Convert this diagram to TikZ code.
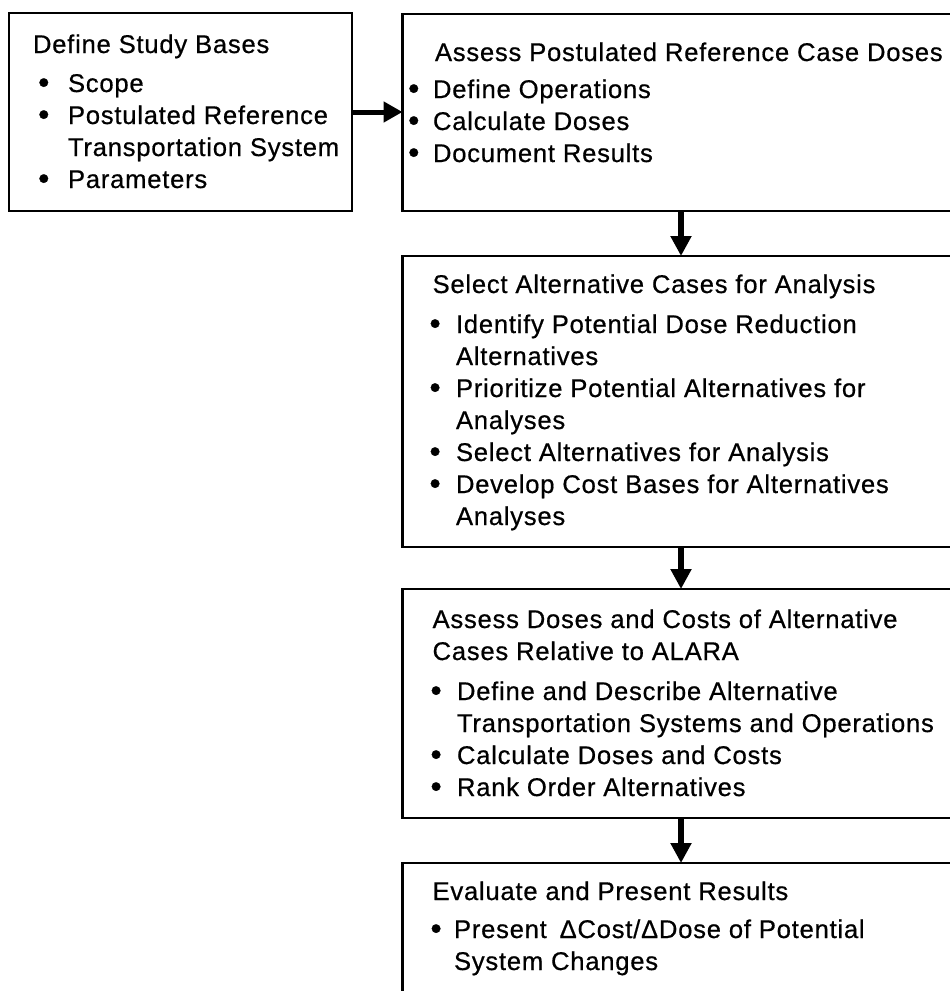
\documentclass[tikz,border=0pt]{standalone}
\usepackage{fontspec}
\usepackage{graphicx}
\setmainfont{Liberation Sans}[LetterSpace=3.0, FakeBold=0.6]
\usetikzlibrary{arrows.meta}

% a slightly enlarged bullet
\newcommand\bigbul{\raisebox{-1.2pt}{\scalebox{1.25}{\textbullet}}}
% bullet placed #1 from the left of the text block, item text starting #1+#2 from it
\newcommand\bx[2]{\hspace*{#1}\makebox[#2][l]{\bigbul}}
% continuation line of an item
\newcommand\cont[1]{\hspace*{#1}}

\begin{document}
\begin{tikzpicture}[x=1pt,y=-1pt,
  box/.style={draw=black, line width=2.6pt, inner sep=0pt, outer sep=0pt, anchor=north west},
  txt/.style={inner sep=0pt, outer sep=0pt, anchor=north west, align=left,
              font=\fontsize{25.6}{32}\selectfont},
  hflow/.style={draw=black, line width=5pt, -{Triangle[length=19pt,width=20pt]}},
  vflow/.style={draw=black, line width=6pt, -{Triangle[length=20pt,width=20pt]}}]
\useasboundingbox (0,0) rectangle (950,991);
\fill[white] (0,0) rectangle (950,991);
\clip (0,0) rectangle (950,991);

% process boxes (the right-hand column runs past the page edge)
\node[box, minimum width=343pt, minimum height=198pt] (define)  at (9,13)    {};
\node[box, minimum width=560pt, minimum height=197pt] (assess)  at (402.5,14)  {};
\node[box, minimum width=560pt, minimum height=291pt] (select)  at (402.5,256) {};
\node[box, minimum width=560pt, minimum height=229pt] (doses)   at (402.5,589) {};
\node[box, minimum width=560pt, minimum height=150pt] (results) at (402.5,863) {};

% box texts
\node[txt] (t-define) at (33,30.6) {\strut Define Study Bases\\[7pt]
  \bx{5.2pt}{29.8pt}Scope\\
  \bx{5.2pt}{29.8pt}Postulated Reference\\
  \cont{35pt}Transportation System\\
  \bx{5.2pt}{29.8pt}Parameters};

\node[txt] (t-assess) at (408.2,38.6) {\strut\hspace*{26.8pt}Assess Postulated Reference Case Doses\\[5pt]
  \bx{0pt}{24.8pt}Define Operations\\
  \bx{0pt}{24.8pt}Calculate Doses\\
  \bx{0pt}{24.8pt}Document Results};

\node[txt] (t-select) at (429.5,270.6) {\strut\hspace*{3.1pt}Select Alternative Cases for Analysis\\[8pt]
  \bx{0pt}{26.5pt}Identify Potential Dose Reduction\\
  \cont{26.5pt}Alternatives\\
  \bx{0pt}{26.5pt}Prioritize Potential Alternatives for\\
  \cont{26.5pt}Analyses\\
  \bx{0pt}{26.5pt}Select Alternatives for Analysis\\
  \bx{0pt}{26.5pt}Develop Cost Bases for Alternatives\\
  \cont{26.5pt}Analyses};

\node[txt] (t-doses) at (430.5,605.6) {\strut\hspace*{2.1pt}Assess Doses and Costs of Alternative\\
  \hspace*{2.1pt}Cases Relative to ALARA\\[8pt]
  \bx{0pt}{26.5pt}Define and Describe Alternative\\
  \cont{26.5pt}Transportation Systems and Operations\\
  \bx{0pt}{26.5pt}Calculate Doses and Costs\\
  \bx{0pt}{26.5pt}Rank Order Alternatives};

\node[txt] (t-results) at (430.5,877.6) {\strut\hspace*{2.1pt}Evaluate and Present Results\\[6pt]
  \bx{0pt}{23.5pt}Present\hspace{0.5em}ΔCost/ΔDose of Potential\\
  \cont{23.5pt}System Changes};

% flow connectors
\coordinate (spine) at (681,0);
\draw[hflow] (define.east) -- (define.east -| assess.west);
\draw[vflow] (assess.south -| spine) -- (select.north -| spine);
\draw[vflow] (select.south -| spine) -- (doses.north -| spine);
\draw[vflow] (doses.south -| spine) -- (results.north -| spine);
\end{tikzpicture}
\end{document}
